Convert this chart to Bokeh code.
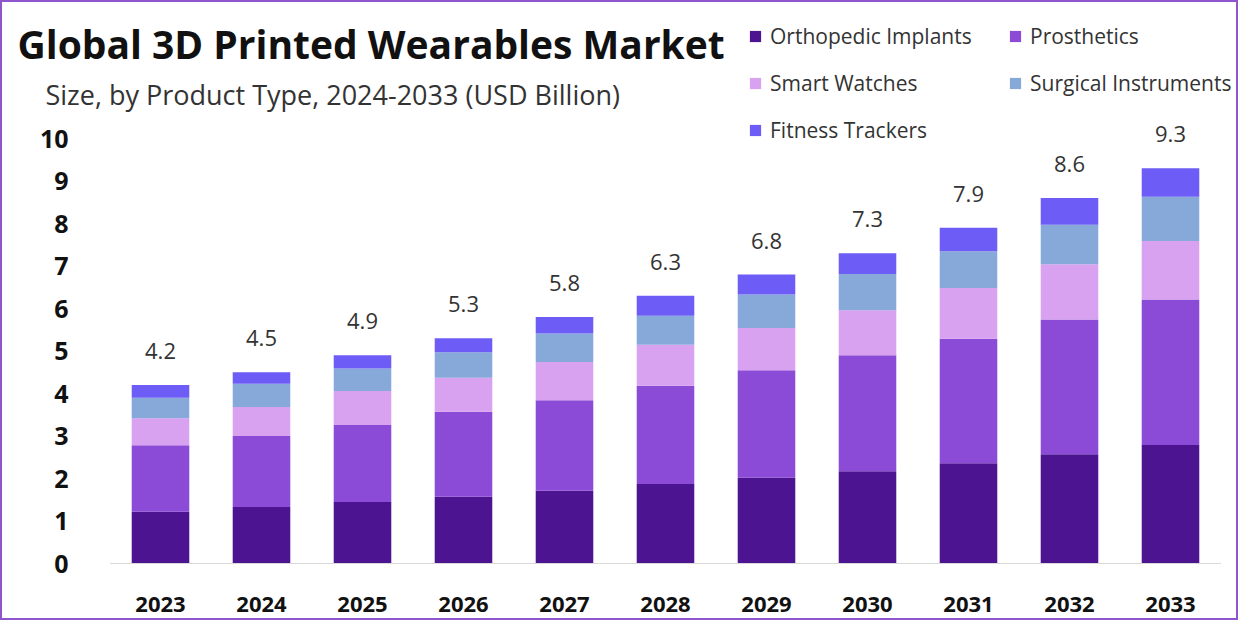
from bokeh.plotting import figure
from bokeh.models import (Range1d, FixedTicker, Label, Legend, LegendItem, ColumnDataSource)
from bokeh.core.properties import value
from bokeh.embed import file_html
from bokeh.resources import INLINE

years = [2023, 2024, 2025, 2026, 2027, 2028, 2029, 2030, 2031, 2032, 2033]
orthopedic_implants = [1.22, 1.33, 1.45, 1.57, 1.71, 1.87, 2.02, 2.17, 2.36, 2.57, 2.79]
prosthetics = [1.56, 1.67, 1.81, 2.00, 2.13, 2.31, 2.53, 2.73, 2.93, 3.17, 3.42]
smart_watches = [0.64, 0.68, 0.80, 0.80, 0.90, 0.97, 0.99, 1.06, 1.19, 1.30, 1.38]
surgical_instruments = [0.48, 0.55, 0.53, 0.60, 0.67, 0.68, 0.79, 0.85, 0.87, 0.93, 1.04]
fitness_trackers = [0.30, 0.27, 0.31, 0.33, 0.39, 0.47, 0.47, 0.49, 0.55, 0.63, 0.67]
totals = [4.2, 4.5, 4.9, 5.3, 5.8, 6.3, 6.8, 7.3, 7.9, 8.6, 9.3]
total_labels = ["4.2", "4.5", "4.9", "5.3", "5.8", "6.3", "6.8", "7.3", "7.9", "8.6", "9.3"]
series_names = ["Orthopedic Implants", "Prosthetics", "Smart Watches",
                "Surgical Instruments", "Fitness Trackers"]
y_ticks = [0, 1, 2, 3, 4, 5, 6, 7, 8, 9, 10]

colors = ["#4C1491", "#8B4BD6", "#D8A2F0", "#86A9DA", "#6D5DF6"]
keys = ["ortho", "prosth", "smart", "surg", "fit"]

source = ColumnDataSource(dict(year=years, ortho=orthopedic_implants, prosth=prosthetics,
                               smart=smart_watches, surg=surgical_instruments,
                               fit=fitness_trackers))

FONT = "Open Sans"
W, H = 1238, 620
BASELINE_PX = 561        # screen y of the zero line, from the top of the canvas
PX_PER_YEAR = 101.0
FIRST_CENTER_PX = 158.0  # screen x of first bar centre
x_start = years[0] - FIRST_CENTER_PX / PX_PER_YEAR
x_end = x_start + W / PX_PER_YEAR
PX_PER_UNIT = 42.5
y_start = -(H - BASELINE_PX) / PX_PER_UNIT
y_end = BASELINE_PX / PX_PER_UNIT

p = figure(width=W, height=H, x_range=Range1d(x_start, x_end), y_range=Range1d(y_start, y_end),
           output_backend="svg", toolbar_location=None,
           min_border_left=0, min_border_right=0, min_border_top=0, min_border_bottom=0)
p.styles = {"border": "2px solid #8E55CC"}
p.background_fill_color = "white"
p.border_fill_color = "white"
p.outline_line_color = None
p.grid.grid_line_color = None

renderers = p.vbar_stack(keys, x="year", width=0.57, color=colors, source=source,
                         line_color=None)

# baseline under the bars
p.segment(x0=[years[0] - 0.5], y0=[0], x1=[years[-1] + 0.5], y1=[0],
          line_color="#D9D9D9", line_width=1)

label_src = ColumnDataSource(dict(year=years, total=totals, txt=total_labels))
p.text(x="year", y="total", text="txt", source=label_src, text_align="center",
       text_baseline="middle", y_offset=-34, text_font=value(FONT),
       text_font_size="22px", text_color="#333333")

# axes drawn inside the frame at fixed locations
p.yaxis.fixed_location = x_start + 82 / PX_PER_YEAR
p.yaxis.ticker = FixedTicker(ticks=y_ticks)
p.yaxis.axis_line_color = None
p.yaxis.major_tick_line_color = None
p.yaxis.minor_tick_line_color = None
p.yaxis.major_label_standoff = 10
p.yaxis.major_label_text_font = FONT
p.yaxis.major_label_text_font_style = "bold"
p.yaxis.major_label_text_font_size = "25px"
p.yaxis.major_label_text_color = "#111111"

p.xaxis.fixed_location = 0
p.xaxis.ticker = FixedTicker(ticks=years)
p.xaxis.axis_line_color = None
p.xaxis.major_tick_line_color = None
p.xaxis.minor_tick_line_color = None
p.xaxis.major_label_standoff = 27
p.xaxis.major_label_text_font = FONT
p.xaxis.major_label_text_font_style = "bold"
p.xaxis.major_label_text_font_size = "22px"
p.xaxis.major_label_text_color = "#111111"

# titles
p.add_layout(Label(x=15, y=579, x_units="screen", y_units="screen",
                   text="Global 3D Printed Wearables Market", text_font=FONT,
                   text_font_style="bold", text_font_size="39px", text_color="#111111",
                   text_baseline="middle"))
p.add_layout(Label(x=43, y=528, x_units="screen", y_units="screen",
                   text="Size, by Product Type, 2024-2033 (USD Billion)", text_font=FONT,
                   text_font_size="27px", text_color="#333333", text_baseline="middle"))

legend = Legend(items=[LegendItem(label=n, renderers=[r]) for n, r in zip(series_names, renderers)],
                orientation="horizontal", ncols=2, location=(746, 478),
                label_text_font=FONT, label_text_font_size="21px", label_text_color="#333333",
                glyph_width=14, glyph_height=14, label_standoff=8, spacing=19, label_width=219,
                padding=0, margin=0, border_line_color=None, background_fill_alpha=0)
p.add_layout(legend)

open("out.html", "w").write(file_html(p, INLINE))
